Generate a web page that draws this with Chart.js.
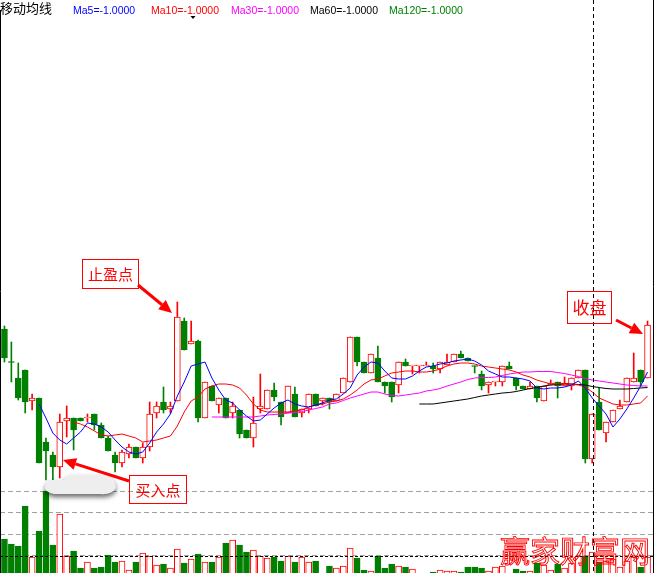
<!DOCTYPE html>
<html>
<head>
<meta charset="utf-8">
<script src="https://cdn.jsdelivr.net/npm/chart.js@4/dist/chart.umd.min.js"></script>
<style>
    html, body { margin: 0; padding: 0; background: #fff; }
    canvas { display: block; }
</style>
</head>
<body>
<canvas id="kline" width="654" height="573" style="width:654px;height:573px"></canvas>
<script>
'use strict';

// 颜色
const UP = '#ff0000';
const DOWN = '#008000';
const MA_COLORS = { ma5: '#0000ff', ma10: '#ff0000', ma30: '#ff00ff', ma60: '#000000', ma120: '#008000' };

// K线数据 (94 根)
const openP = [2.71,2.38,2.22,2.30,1.99,2.02,1.58,1.45,1.33,1.79, 1.82,1.82,1.82,1.86,1.75,1.62,1.45,1.37,1.46,1.53,
    1.42,1.53,1.87,1.98,1.91,1.99,2.79,2.56,2.59,1.82, 2.14,1.95,2.02,1.87,1.90,1.70,1.62,1.91,1.91,2.10,
    1.98,1.87,2.06,1.87,1.91,2.06,1.99,2.02,1.99,2.07, 2.18,2.63,2.38,2.27,2.42,2.18,2.18,2.15,2.38,2.34,
    2.34,2.34,2.34,2.31,2.35,2.38,2.46,2.42,2.34,2.26, 2.15,2.18,2.18,2.34,2.22,2.14,2.11,2.14,1.99,2.15,
    2.18,2.14,2.14,2.22,2.30,1.41,1.98,1.67,1.78,1.91, 1.98,2.18,2.30,2.22];
const highP = [2.74,2.58,2.37,2.30,2.06,2.02,1.62,1.48,1.86,1.94, 1.82,1.82,1.86,1.86,1.77,1.64,1.48,1.50,1.56,1.53,
    1.57,1.98,1.98,2.13,1.98,2.98,2.82,2.79,2.60,2.18, 2.14,2.02,2.02,1.98,1.90,1.70,2.03,2.26,2.10,2.17,
    1.98,2.14,2.13,1.91,2.06,2.06,2.02,2.02,2.06,2.22, 2.63,2.63,2.38,2.46,2.54,2.18,2.18,2.38,2.41,2.34,
    2.34,2.38,2.37,2.38,2.46,2.46,2.49,2.42,2.34,2.29, 2.18,2.18,2.34,2.38,2.22,2.14,2.18,2.14,2.14,2.20,
    2.18,2.23,2.22,2.30,2.30,1.86,2.12,1.78,1.90,2.00, 2.22,2.47,2.30,2.79];
const lowP = [2.38,2.18,2.00,1.87,1.90,1.37,1.20,1.17,1.22,1.63, 1.50,1.79,1.78,1.70,1.62,1.49,1.28,1.33,1.42,1.42,
    1.37,1.49,1.82,1.87,1.87,1.99,2.50,2.56,1.78,1.82, 1.99,1.87,1.82,1.82,1.62,1.62,1.53,1.87,1.91,1.99,
    1.75,1.87,1.83,1.83,1.87,1.94,1.95,1.91,1.99,2.07, 2.18,2.34,2.27,2.27,2.18,2.07,1.98,2.07,2.34,2.26,
    2.27,2.34,2.27,2.27,2.35,2.38,2.42,2.39,2.27,2.10, 2.07,2.14,2.14,2.31,2.10,2.11,2.11,1.98,1.99,2.15,
    2.02,2.14,2.10,2.22,1.37,1.37,1.70,1.58,1.78,1.91, 1.98,2.18,2.14,2.22];
const closeP = [2.42,2.375,2.02,1.98,2.02,1.37,1.49,1.33,1.78,1.82, 1.70,1.79,1.825,1.75,1.62,1.49,1.37,1.48,1.53,1.42,
    1.53,1.86,1.94,1.90,1.94,2.83,2.50,2.59,1.82,2.18, 1.99,2.02,1.82,1.94,1.66,1.62,1.77,1.94,2.10,2.03,
    1.83,2.14,1.83,1.91,2.06,1.94,2.02,1.98,2.06,2.22, 2.63,2.38,2.27,2.46,2.18,2.14,2.03,2.38,2.34,2.345,
    2.345,2.345,2.31,2.38,2.38,2.46,2.42,2.39,2.335,2.14, 2.18,2.185,2.34,2.31,2.14,2.11,2.14,2.02,2.14,2.17,
    2.14,2.17,2.22,2.30,1.41,1.86,1.70,1.78,1.90,1.94, 2.22,2.22,2.18,2.75];

// 成交量
const volume = [370,320,300,700,190,450,850,310,620,200, 250,80,140,80,90,210,140,150,60,140,
    230,200,110,120,80,270,130,170,220,140, 140,190,330,360,310,240,260,200,180,190,
    150,200,140,190,140,150,20,100,80,100, 280,180,60,50,200,80,120,100,90,70,
    20,20,40,60,50,50,40,90,90,80, 50,90,100,20,70,50,50,130,110,60,
    120,80,130,200,200,240,140,150,170,90, 150,190,90,190];

// 均线
const ma5Vals = [1.96,1.82,1.67,1.60,1.56,
    1.62,1.68,1.77,1.76,1.73,1.68,1.60,1.53,1.48,1.46, 1.48,1.57,1.68,1.76,1.86,2.04,2.18,2.34,2.36,2.38,
    2.22,2.10,2.00,1.97,1.90,1.84,1.79,1.80,1.86,1.92, 1.97,2.00,1.96,1.94,1.93,1.95,1.97,2.00,2.01,2.06,
    2.12,2.25,2.33,2.38,2.37,2.29,2.22,2.21,2.21,2.24, 2.29,2.33,2.34,2.36,2.37,2.39,2.40,2.41,2.39,2.35,
    2.29,2.26,2.23,2.23,2.22,2.21,2.19,2.12,2.11,2.12, 2.12,2.13,2.15,2.19,2.12,2.02,1.94,1.86,1.73,1.81,
    1.91,2.02,2.14,2.28];
const ma10Vals = [1.78,1.76,1.73,1.69,1.65,1.64,1.65,1.66,1.64,1.62,
    1.58,1.59,1.60,1.62,1.64,1.74,1.88,1.99,2.03,2.11, 2.14,2.16,2.16,2.15,2.12,2.05,1.96,1.90,1.88,1.88,
    1.88,1.88,1.89,1.90,1.93,1.95,1.96,1.98,1.99,2.01, 2.05,2.10,2.16,2.20,2.21,2.24,2.27,2.28,2.29,2.29,
    2.28,2.28,2.29,2.31,2.34,2.36,2.37,2.37,2.36,2.34, 2.33,2.32,2.31,2.30,2.28,2.25,2.23,2.20,2.18,2.16,
    2.16,2.16,2.16,2.15,2.13,2.08,2.02,1.99,1.96,1.95, 1.95,1.96,1.97,2.04];
const ma30Vals = [1.83,1.83,1.83,1.83,1.83,1.83,1.83,1.84,1.85,1.855,
    1.86,1.87,1.875,1.885,1.90,1.915,1.93,1.96,1.97,1.995, 2.02,2.04,2.06,2.08,2.08,2.06,2.045,2.04,2.05,2.06,
    2.07,2.09,2.10,2.115,2.14,2.16,2.18,2.205,2.22,2.225, 2.225,2.23,2.245,2.26,2.27,2.28,2.28,2.285,2.285,2.285,
    2.275,2.265,2.25,2.235,2.215,2.20,2.19,2.18,2.17,2.16, 2.15,2.145,2.14,2.14];
const ma60Vals = [1.96,1.96,1.96,1.97,1.98,1.99,2.00,2.01,2.025,2.04,
    2.05,2.06,2.07,2.075,2.085,2.10,2.115,2.125,2.14,2.15, 2.155,2.16,2.16,2.155,2.15,2.135,2.125,2.115,2.11,2.11,
    2.11,2.115,2.12,2.125];

// 成交量网格与参考线
const VOL_GRID = [212, 424, 636, 848];
const VOL_REF = 197;
const CURSOR_INDEX = 85;

const labels = openP.map((_, i) => String(i + 1));
const pad = (vals) => Array(labels.length - vals.length).fill(null).concat(vals);
const isUp = openP.map((o, i) => closeP[i] > o);

// 辅助绘图
function drawArrow(ctx, x1, y1, x2, y2) {
    const ang = Math.atan2(y2 - y1, x2 - x1);
    const head = 13, half = 6;
    const bx = x2 - head * Math.cos(ang);
    const by = y2 - head * Math.sin(ang);
    ctx.strokeStyle = UP;
    ctx.lineWidth = 3;
    ctx.beginPath();
    ctx.moveTo(x1, y1);
    ctx.lineTo(bx, by);
    ctx.stroke();
    ctx.fillStyle = UP;
    ctx.beginPath();
    ctx.moveTo(x2, y2);
    ctx.lineTo(bx + half * Math.sin(ang), by - half * Math.cos(ang));
    ctx.lineTo(bx - half * Math.sin(ang), by + half * Math.cos(ang));
    ctx.closePath();
    ctx.fill();
}

function drawLabelBox(ctx, x, y, w, h, text, size) {
    ctx.strokeStyle = UP;
    ctx.lineWidth = 1;
    ctx.strokeRect(x + 0.5, y + 0.5, w, h);
    ctx.font = `${size}px "Noto Sans CJK SC"`;
    ctx.textAlign = 'center';
    ctx.textBaseline = 'middle';
    ctx.fillStyle = UP;
    ctx.fillText(text, x + w / 2 + 0.5, y + h / 2 + 1);
}

const overlayPlugin = {
    id: 'overlay',
    beforeDatasetsDraw(chart) {
        const ctx = chart.ctx;
        const yv = chart.scales.yv;
        ctx.save();
        ctx.strokeStyle = '#a0a0a0';
        ctx.lineWidth = 1;
        ctx.setLineDash([5, 3]);
        VOL_GRID.forEach(v => {
            const y = Math.round(yv.getPixelForValue(v)) + 0.5;
            ctx.beginPath();
            ctx.moveTo(0, y);
            ctx.lineTo(653, y);
            ctx.stroke();
        });
        ctx.restore();
    },
    afterDraw(chart) {
        const ctx = chart.ctx;
        const x = chart.scales.x;
        const yv = chart.scales.yv;
        ctx.save();

        // 成交量参考线
        ctx.strokeStyle = '#000';
        ctx.lineWidth = 1;
        ctx.setLineDash([3, 2]);
        const ry = Math.round(yv.getPixelForValue(VOL_REF)) + 0.5;
        ctx.beginPath();
        ctx.moveTo(0, ry);
        ctx.lineTo(653, ry);
        ctx.stroke();

        // 十字光标竖线
        const cx = Math.ceil(x.getPixelForValue(CURSOR_INDEX)) + 0.5;
        ctx.setLineDash([4, 3]);
        ctx.beginPath();
        ctx.moveTo(cx, 0);
        ctx.lineTo(cx, 573);
        ctx.stroke();
        ctx.setLineDash([]);

        // 边框
        ctx.beginPath();
        ctx.moveTo(0.5, 10);
        ctx.lineTo(0.5, 573);
        ctx.moveTo(653.5, 0);
        ctx.lineTo(653.5, 573);
        ctx.stroke();

        // 云形阴影
        ctx.save();
        ctx.shadowColor = 'rgba(0,0,0,0.6)';
        ctx.shadowBlur = 5;
        ctx.shadowOffsetY = 3;
        ctx.fillStyle = '#eeeeee';
        ctx.beginPath();
        ctx.moveTo(52, 480);
        ctx.lineTo(64, 480);
        ctx.quadraticCurveTo(66, 475, 72, 475);
        ctx.lineTo(106, 475);
        ctx.quadraticCurveTo(116, 478, 116, 488);
        ctx.quadraticCurveTo(112, 495, 100, 494);
        ctx.lineTo(54, 494);
        ctx.quadraticCurveTo(44, 492, 45, 486);
        ctx.quadraticCurveTo(46, 481, 52, 480);
        ctx.closePath();
        ctx.fill();
        ctx.restore();

        // 标注
        drawArrow(ctx, 138, 285, 172, 313);
        drawArrow(ctx, 616, 320, 643, 334);
        drawArrow(ctx, 129, 481, 63, 460);
        drawLabelBox(ctx, 82, 259, 56, 29, '止盈点', 15);
        drawLabelBox(ctx, 567, 291, 44, 32, '收盘', 17);
        drawLabelBox(ctx, 129, 475, 57, 28, '买入点', 15);

        // 水印
        ctx.font = '30px "Noto Sans CJK SC"';
        ctx.textAlign = 'left';
        ctx.textBaseline = 'middle';
        ctx.strokeStyle = UP;
        ctx.lineWidth = 0.9;
        ctx.strokeText('赢家财富网', 500, 551);

        // 顶部图例
        ctx.textBaseline = 'alphabetic';
        ctx.fillStyle = '#000';
        ctx.font = '13px "Noto Sans CJK SC"';
        ctx.fillText('移动均线', 0, 13);
        ctx.font = '10.5px "Liberation Sans"';
        const legend = [
            ['Ma5=-1.0000', MA_COLORS.ma5, 73],
            ['Ma10=-1.0000', MA_COLORS.ma10, 151],
            ['Ma30=-1.0000', MA_COLORS.ma30, 231],
            ['Ma60=-1.0000', MA_COLORS.ma60, 310],
            ['Ma120=-1.0000', MA_COLORS.ma120, 389]
        ];
        legend.forEach(([t, c, lx]) => {
            ctx.fillStyle = c;
            ctx.fillText(t, lx, 14);
        });
        ctx.fillStyle = '#000';
        ctx.beginPath();
        ctx.moveTo(190.5, 16);
        ctx.lineTo(195.5, 16);
        ctx.lineTo(193, 19);
        ctx.closePath();
        ctx.fill();

        ctx.restore();
    }
};

function maLine(label, data, color) {
    return {
        type: 'line',
        label: label,
        data: data,
        yAxisID: 'y',
        borderColor: color,
        borderWidth: 1,
        pointRadius: 0,
        tension: 0,
        order: 0
    };
}

const chart = new Chart(document.getElementById('kline'), {
    type: 'bar',
    data: {
        labels: labels,
        datasets: [
            maLine('MA5', pad(ma5Vals), MA_COLORS.ma5),
            maLine('MA10', pad(ma10Vals), MA_COLORS.ma10),
            maLine('MA30', pad(ma30Vals), MA_COLORS.ma30),
            maLine('MA60', pad(ma60Vals), MA_COLORS.ma60),
            {
                label: 'body',
                data: openP.map((o, i) => [o, closeP[i]]),
                yAxisID: 'y',
                backgroundColor: isUp.map(u => u ? '#ffffff' : DOWN),
                borderColor: isUp.map(u => u ? UP : DOWN),
                borderWidth: 1,
                borderSkipped: false,
                barThickness: 6,
                minBarLength: 1,
                grouped: false,
                order: 2
            },
            {
                label: 'wick',
                data: lowP.map((l, i) => [l, highP[i]]),
                yAxisID: 'y',
                backgroundColor: isUp.map(u => u ? UP : DOWN),
                borderWidth: 0,
                barThickness: 1,
                grouped: false,
                order: 3
            },
            {
                label: 'volume',
                data: volume,
                yAxisID: 'yv',
                backgroundColor: isUp.map(u => u ? '#ffffff' : DOWN),
                borderColor: isUp.map(u => u ? UP : DOWN),
                borderWidth: 1,
                borderSkipped: false,
                barThickness: 6,
                grouped: false,
                order: 4
            }
        ]
    },
    options: {
        responsive: false,
        animation: false,
        layout: { padding: { left: 1, right: 3, top: 0, bottom: 0 } },
        plugins: {
            legend: { display: false },
            tooltip: { enabled: false }
        },
        scales: {
            x: { type: 'category', display: false, offset: true, grid: { display: false } },
            y: { display: false, min: 0.27, max: 6.0 },
            yv: { display: false, min: 30, max: 5760 }
        }
    },
    plugins: [overlayPlugin]
});
</script>
</body>
</html>
